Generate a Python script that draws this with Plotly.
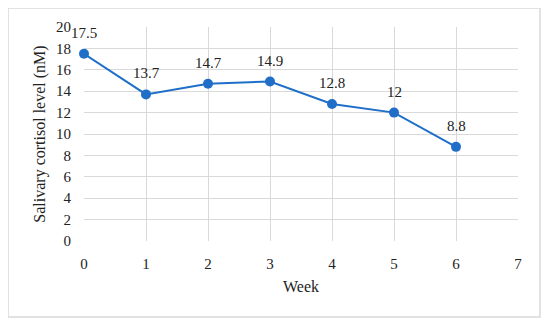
import plotly.graph_objects as go

weeks = [0, 1, 2, 3, 4, 5, 6]
cortisol = [17.5, 13.7, 14.7, 14.9, 12.8, 12, 8.8]
labels = ["17.5", "13.7", "14.7", "14.9", "12.8", "12", "8.8"]

FONT = "Liberation Serif"
OFF = 8  # page body margin
W, H = 550 - OFF, 325 - OFF
L, R, T, B = 84 - OFF, 550 - 518, 27 - OFF, 325 - 241
pw, ph = W - L - R, H - T - B

def px_x(px):
    return (px - OFF - L) / pw

def px_y(py):
    return (H - B - (py - OFF)) / ph

fig = go.Figure()
fig.add_trace(go.Scatter(
    x=weeks, y=cortisol, mode="lines+markers",
    line=dict(color="#1f6fc8", width=2),
    marker=dict(color="#1f6fc8", size=10),
    cliponaxis=False, showlegend=False,
))

annotations = [
    dict(x=x, y=y, text=t, showarrow=False, xref="x", yref="y",
         yanchor="bottom", yshift=11,
         font=dict(family=FONT, size=15, color="#222"))
    for x, y, t in zip(weeks, cortisol, labels)
]

fig.update_layout(
    width=W, height=H,
    margin=dict(l=L, r=R, t=T, b=B, autoexpand=False),
    paper_bgcolor="white", plot_bgcolor="white",
    font=dict(family=FONT, size=15, color="#222"),
    annotations=annotations,
    xaxis=dict(range=[0, 7], dtick=1, showgrid=True, gridcolor="#d9d9d9",
               zeroline=False, showline=False, ticks="",
               tickfont=dict(family=FONT, size=15, color="#222"),
               ticklabelstandoff=12,
               title=dict(text="Week", standoff=9,
                          font=dict(family=FONT, size=16, color="#222"))),
    yaxis=dict(range=[0, 20], dtick=2, showgrid=True, gridcolor="#d9d9d9",
               zeroline=False, showline=False, ticks="",
               tickfont=dict(family=FONT, size=15, color="#222"),
               ticklabelstandoff=12,
               title=dict(text="Salivary cortisol level (nM)", standoff=6,
                          font=dict(family=FONT, size=16, color="#222"))),
    shapes=[dict(type="rect", xref="paper", yref="paper",
                 x0=px_x(8), x1=px_x(540), y0=px_y(317), y1=px_y(8),
                 line=dict(color="#d9d9d9", width=1.5), layer="below")],
)
fig.write_html("out.html")
